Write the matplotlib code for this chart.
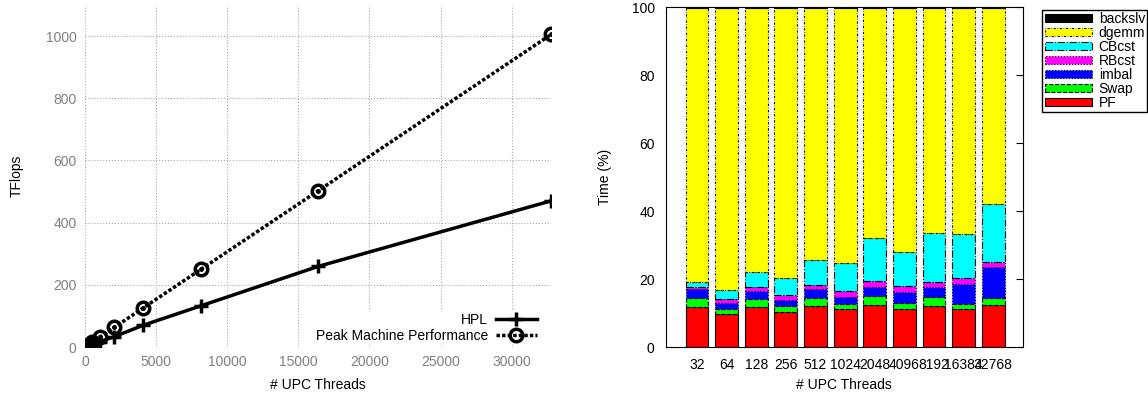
import matplotlib
matplotlib.use('Agg')
import matplotlib.pyplot as plt
import numpy as np

plt.rcParams['font.family'] = ['Liberation Sans', 'DejaVu Sans']
plt.rcParams['font.size'] = 10

# left panel: performance
threads = [32, 64, 128, 256, 512, 1024, 2048, 4096, 8192, 16384, 32768]
hpl = [0.6, 1.15, 2.3, 4.5, 8.8, 17, 33, 70, 133, 259, 470]
peak = [0.98, 1.96, 3.9, 7.85, 15.7, 31.4, 62.8, 125.6, 251, 502, 1005]

# right panel: time breakdown (%)
thread_labels = ['32', '64', '128', '256', '512', '1024', '2048', '4096', '8192', '16384', '32768']
pf = [11.7, 9.8, 11.7, 10.4, 12.1, 11.1, 12.5, 11.3, 12.2, 11.2, 12.4]
swap = [2.6, 1.5, 2.3, 1.6, 2.3, 1.7, 2.4, 1.7, 2.5, 1.6, 2.1]
imbal = [2.7, 1.6, 2.6, 1.8, 2.8, 2.0, 2.8, 3.2, 2.9, 5.6, 9.1]
rbcst = [0.7, 1.2, 1.1, 1.6, 1.1, 1.8, 1.6, 1.7, 1.5, 2.0, 1.3]
cbcst = [1.5, 2.8, 4.3, 4.8, 7.3, 8.0, 12.7, 10.0, 14.5, 12.9, 17.1]
dgemm = [80.5, 82.8, 77.7, 79.5, 74.1, 75.1, 67.7, 71.8, 66.1, 66.4, 57.7]
backslv = [0.3, 0.3, 0.3, 0.3, 0.3, 0.3, 0.3, 0.3, 0.3, 0.3, 0.3]

fig = plt.figure(figsize=(11.48, 3.95), dpi=100)

# ---- left
ax1 = fig.add_axes([0.074, 0.1215, 0.406, 0.866])
ax1.plot(threads, hpl, color='black', lw=2.5, marker='+', ms=10, mew=2.5, label='HPL')
ax1.plot(threads, peak, color='black', lw=2.5, ls=(0, (1, 0.6)), marker='o', ms=9,
         mew=2.5, fillstyle='none', label='Peak Machine Performance')
ax1.plot(threads, peak, ls='none', marker='o', ms=2.5, color='black')
ax1.set_xlim(0, 32768)
ax1.set_ylim(0, 1100)
ax1.set_xticks([0, 5000, 10000, 15000, 20000, 25000, 30000])
ax1.set_yticks([0, 200, 400, 600, 800, 1000])
ax1.grid(True, color='#aaaaaa', ls=':', lw=0.8)
for s in ax1.spines.values():
    s.set_visible(False)
ax1.tick_params(length=0, colors='#808080', labelsize=10, pad=6)
ax1.set_xlabel('# UPC Threads', labelpad=6)
ax1.set_ylabel('TFlops', labelpad=16)
leg = ax1.legend(loc='lower right', bbox_to_anchor=(0.972, 0.008), markerfirst=False,
                 frameon=True, framealpha=1, edgecolor='none', fancybox=False,
                 handlelength=2.9, numpoints=1, borderpad=0.1, labelspacing=0.15,
                 borderaxespad=0, handletextpad=0.6, fontsize=10)
for t in leg.get_texts():
    t.set_ha('right')
leg.get_frame().set_facecolor('white')

# ---- right
ax2 = fig.add_axes([0.580, 0.1215, 0.311, 0.8605])
x = np.arange(len(thread_labels))
series = [
    ('PF', pf, '#ff0000', '-'),
    ('Swap', swap, '#00ff00', '--'),
    ('imbal', imbal, '#0000ff', ':'),
    ('RBcst', rbcst, '#ff00ff', ':'),
    ('CBcst', cbcst, '#00ffff', '-.'),
    ('dgemm', dgemm, '#ffff00', (0, (2, 1.5, 0.5, 1.5))),
    ('backslv', backslv, '#000000', '-'),
]
bottom = np.zeros(len(x))
handles = []
for name, vals, col, ls in series:
    b = ax2.bar(x, vals, 0.77, bottom=bottom, color=col, edgecolor='black',
                linewidth=0.8, linestyle=ls, label=name)
    handles.append(b)
    bottom += np.array(vals)
ax2.set_xlim(-1.05, 11)
ax2.set_ylim(0, 100)
ax2.set_xticks(x)
ax2.set_xticklabels(thread_labels)
ax2.set_yticks([0, 20, 40, 60, 80, 100])
ax2.tick_params(axis='x', length=0, labelsize=10, pad=8)
ax2.tick_params(axis='y', length=0, labelsize=10, pad=8)
ax2.tick_params(axis='y', which='major', right=True, direction='in', length=5)
ax2.tick_params(axis='y', left=False)
ax2.set_xlabel('# UPC Threads', labelpad=4)
ax2.set_ylabel('Time (%)', labelpad=14)
fig.legend(handles[::-1], [s[0] for s in series][::-1], loc='upper left',
           bbox_to_anchor=(0.902, 0.993), frameon=True, fancybox=False,
           edgecolor='black', framealpha=1, handlelength=3.4, handleheight=0.45,
           labelspacing=0.0, borderpad=0.15, handletextpad=0.5, fontsize=10)

fig.savefig('out.png', dpi=100)
